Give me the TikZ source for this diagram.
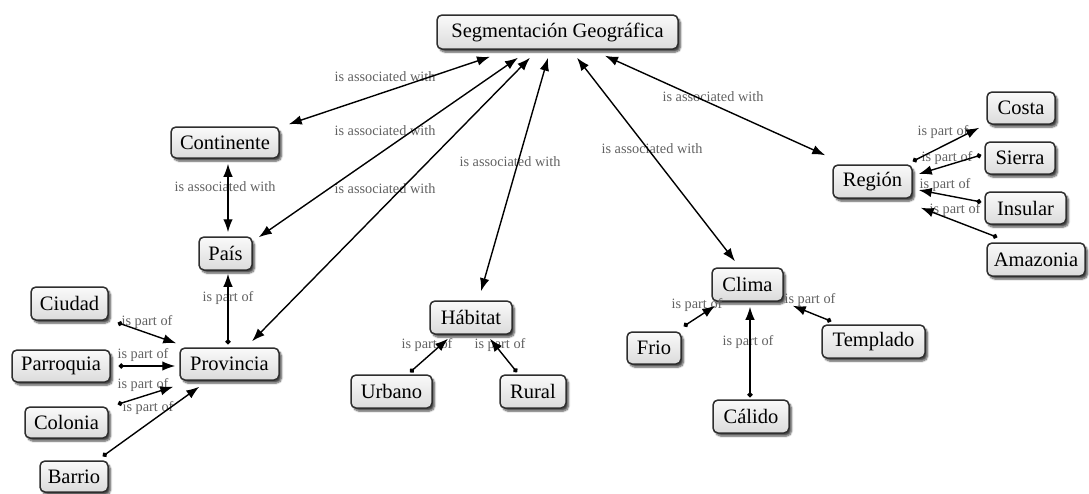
\documentclass[tikz,border=0pt]{standalone}
\usepackage{fontspec}
\setmainfont{Liberation Serif}
\usetikzlibrary{arrows.meta,shadows.blur}

\tikzset{
  concept/.style={rectangle, rounded corners=5pt, draw=black!82, line width=1.5pt,
    top color=black!2, bottom color=black!14, inner sep=0pt,
    font=\fontsize{20.5}{22}\selectfont,
    blur shadow={shadow xshift=2.5pt, shadow yshift=-3pt, shadow blur steps=6, shadow opacity=70}},
  linklabel/.style={font=\fontsize{14.3}{15}\selectfont, text=black!62, inner sep=1pt},
  assoc/.style={line width=1.4pt, {Latex[length=13pt,width=9.5pt]}-{Latex[length=13pt,width=9.5pt]}},
  partof/.style={line width=1.4pt, {Circle[length=5pt]}-{Latex[length=13pt,width=9.5pt]}},
}

\begin{document}
\begin{tikzpicture}[x=1pt,y=-1pt]
\useasboundingbox (0,0) rectangle (1089,493);

% concepts
\node[concept, minimum width=241pt, minimum height=34pt] (seg) at (557.5,32) {Segmentación Geográfica};
\node[concept, minimum width=108pt, minimum height=31pt] (cont) at (225,142.5) {Continente};
\node[concept, minimum width=53pt, minimum height=33pt] (pais) at (225.5,253.5) {País};
\node[concept, minimum width=99pt, minimum height=32pt] (prov) at (229.5,364) {Provincia};
\node[concept, minimum width=77pt, minimum height=33pt] (ciudad) at (69.5,303.5) {Ciudad};
\node[concept, minimum width=98pt, minimum height=32pt] (parroquia) at (61,366) {Parroquia};
\node[concept, minimum width=83pt, minimum height=31pt] (colonia) at (66.5,422.5) {Colonia};
\node[concept, minimum width=68pt, minimum height=31pt] (barrio) at (74,476.5) {Barrio};
\node[concept, minimum width=82pt, minimum height=33pt] (hab) at (471,317.5) {Hábitat};
\node[concept, minimum width=81pt, minimum height=33pt] (urbano) at (391.5,391.5) {Urbano};
\node[concept, minimum width=66pt, minimum height=33pt] (rural) at (533,391.5) {Rural};
\node[concept, minimum width=71pt, minimum height=33pt] (clima) at (747.5,284.5) {Clima};
\node[concept, minimum width=54pt, minimum height=32pt] (frio) at (654,348) {Frio};
\node[concept, minimum width=103pt, minimum height=33pt] (templado) at (873.5,341.5) {Templado};
\node[concept, minimum width=76pt, minimum height=33pt] (calido) at (751,416.5) {Cálido};
\node[concept, minimum width=79pt, minimum height=33pt] (region) at (872.5,181.5) {Región};
\node[concept, minimum width=68pt, minimum height=32pt] (costa) at (1021,108) {Costa};
\node[concept, minimum width=70pt, minimum height=32pt] (sierra) at (1020,158) {Sierra};
\node[concept, minimum width=81pt, minimum height=32pt] (insular) at (1025.5,208) {Insular};
\node[concept, minimum width=98pt, minimum height=33pt] (amazonia) at (1036,259.5) {Amazonia};

% link labels
\node[linklabel] (l1) at (385,77) {is associated with};
\node[linklabel] (l2) at (385,131) {is associated with};
\node[linklabel] (l3) at (385,189) {is associated with};
\node[linklabel] (l4) at (510,162) {is associated with};
\node[linklabel] (l5) at (652,149) {is associated with};
\node[linklabel] (l6) at (713,97) {is associated with};
\node[linklabel] (l7) at (225,187) {is associated with};
\node[linklabel] (l8) at (228,298) {is part of};
\node[linklabel] (l9) at (147,322) {is part of};
\node[linklabel] (l10) at (143,355) {is part of};
\node[linklabel] (l11) at (143,385) {is part of};
\node[linklabel] (l12) at (148,408) {is part of};
\node[linklabel] (l13) at (427,345) {is part of};
\node[linklabel] (l14) at (500,345) {is part of};
\node[linklabel] (l15) at (697,305) {is part of};
\node[linklabel] (l16) at (748,342) {is part of};
\node[linklabel] (l17) at (810,300) {is part of};
\node[linklabel] (l18) at (943,132) {is part of};
\node[linklabel] (l19) at (947,158) {is part of};
\node[linklabel] (l20) at (945,185) {is part of};
\node[linklabel] (l21) at (955,210) {is part of};

% associations from the root concept
\draw[assoc] ([xshift=-67.5pt,yshift=-7pt]seg.south) -- ([xshift=9pt,yshift=2pt]cont.north east);
\draw[assoc] ([xshift=-39.5pt,yshift=-8pt]seg.south) -- ([xshift=6pt,yshift=-1pt]pais.north east);
\draw[assoc] ([xshift=-27.5pt,yshift=-8pt]seg.south) -- ([xshift=22.5pt,yshift=6pt]prov.north);
\draw[assoc] ([xshift=-9.5pt,yshift=-8pt]seg.south) -- ([xshift=10pt,yshift=9pt]hab.north);
\draw[assoc] ([xshift=19.5pt,yshift=-8pt]seg.south) -- ([xshift=-12.5pt,yshift=6pt]clima.north);
\draw[assoc] ([xshift=47.5pt,yshift=-6pt]seg.south) -- ([xshift=-7pt,yshift=9pt]region.north west);
\draw[assoc] ([xshift=3pt,yshift=-5pt]cont.south) -- ([xshift=2.5pt,yshift=4pt]pais.north);

% part-of links
\draw[partof] ([xshift=-1.5pt,yshift=3pt]prov.north) -- ([xshift=2.5pt,yshift=-3pt]pais.south);
\draw[partof] ([xshift=9pt,yshift=-2pt]ciudad.south east) -- ([xshift=-3pt,yshift=4pt]prov.north west);
\draw[partof] ([xshift=8pt]parroquia.east) -- ([xshift=-4pt,yshift=-2pt]prov.west);
\draw[partof] ([xshift=9pt,yshift=2pt]colonia.north east) -- ([xshift=-6pt,yshift=-6pt]prov.south west);
\draw[partof] ([xshift=-6pt,yshift=4pt]barrio.north east) -- ([xshift=20pt,yshift=-6pt]prov.south west);
\draw[partof] ([xshift=18.5pt,yshift=2pt]urbano.north) -- ([xshift=-23pt,yshift=-4pt]hab.south);
\draw[partof] ([xshift=-16pt,yshift=2pt]rural.north) -- ([xshift=19pt,yshift=-4pt]hab.south);
\draw[partof] ([xshift=2pt,yshift=5pt]frio.north east) -- ([xshift=4pt,yshift=-4pt]clima.south west);
\draw[partof] ([xshift=-1pt,yshift=2pt]calido.north) -- ([xshift=2.5pt,yshift=-5pt]clima.south);
\draw[partof] ([xshift=10pt,yshift=3pt]templado.north west) -- ([xshift=9pt,yshift=-4pt]clima.south east);
\draw[partof] ([yshift=3pt]region.north east) -- ([xshift=-7pt,yshift=-3pt]costa.south west);
\draw[partof] ([xshift=-3pt,yshift=3pt]sierra.west) -- ([xshift=6pt,yshift=7.5pt]region.east);
\draw[partof] ([xshift=-3pt,yshift=6pt]insular.west) -- ([xshift=6pt,yshift=-8.5pt]region.east);
\draw[partof] ([xshift=11pt,yshift=5pt]amazonia.north west) -- ([xshift=8pt,yshift=-9pt]region.south east);
\end{tikzpicture}
\end{document}
